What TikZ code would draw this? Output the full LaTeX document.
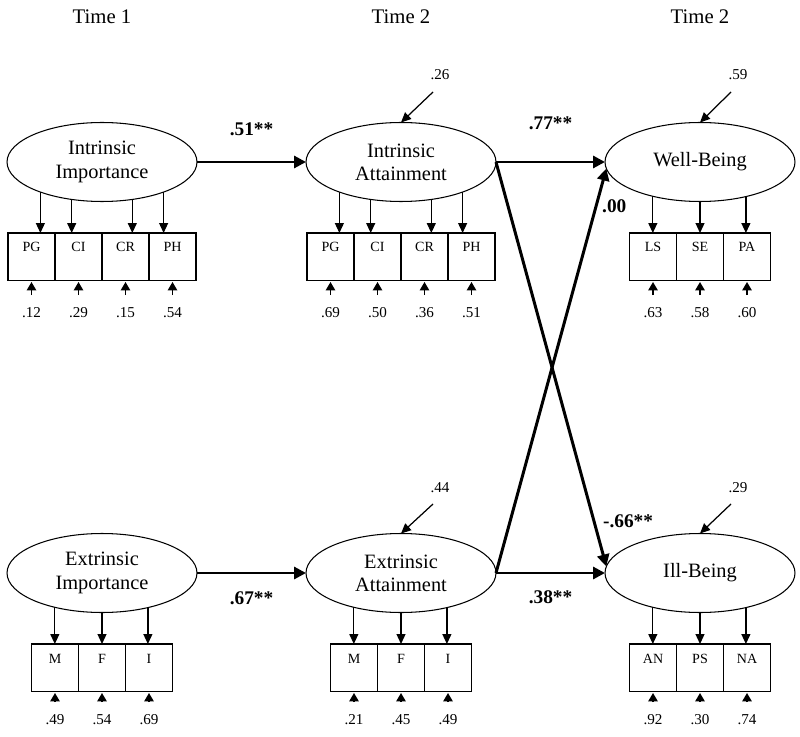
\documentclass[tikz,border=0pt]{standalone}
\usepackage{fontspec}
\setmainfont{Liberation Serif}
\usetikzlibrary{shapes, arrows.meta}

\tikzset{
	latent/.style={ellipse, draw, line width=0.6pt, minimum width=3.8cm, minimum height=1.58cm, inner sep=0pt, outer sep=0pt, align=center, font=\fontsize{11.6}{13.2}\selectfont},
	ind/.style={rectangle, draw, line width=0.6pt, minimum width=0.94cm, inner sep=0pt, outer sep=0pt, text height=0.38cm, text depth=0.57cm, anchor=north, font=\fontsize{8}{9}\selectfont},
	val/.style={inner sep=0pt, font=\fontsize{8.6}{10}\selectfont},
	timelbl/.style={font=\fontsize{11.8}{13}\selectfont},
	coef/.style={font=\bfseries\fontsize{11}{13}\selectfont},
	load/.style={line width=0.7pt, -{Triangle[length=0.2cm, width=0.18cm]}},
	erra/.style={line width=0.9pt, -{Triangle[length=0.17cm, width=0.19cm]}, shorten <=0.25cm, shorten >=0.03cm},
	resa/.style={line width=0.7pt, -{Triangle[length=0.2cm, width=0.18cm]}},
	struct/.style={line width=1.7pt, -{Triangle[length=0.24cm, width=0.24cm]}}
}

\begin{document}
\begin{tikzpicture}[x=0.02cm, y=-0.02cm]
	\useasboundingbox (0,0) rectangle (800,736);
	% time labels
	\node[timelbl] (t1) at (102,17) {Time 1};
	\node[timelbl] (t2) at (401,17) {Time 2};
	\node[timelbl] (t3) at (700,17) {Time 2};

	% latent variables
	\node[latent] (ii) at (102,162) {Intrinsic\\Importance};
	\node[latent] (ia) at (401,162) {Intrinsic\\Attainment};
	\node[latent] (wb) at (700,162) {Well-Being};
	\node[latent] (ei) at (102,573) {Extrinsic\\Importance};
	\node[latent] (ea) at (401,573) {Extrinsic\\Attainment};
	\node[latent] (ib) at (700,573) {Ill-Being};

	% indicators with error terms
	\foreach \lab/\val [count=\i] in {PG/.12, CI/.29, CR/.15, PH/.54} {
		\node[ind] (ii\i) at ({102+47*(\i-2.5)},233) {\lab};
		\node[val] (vii\i) at ({102+47*(\i-2.5)},313) {\val};
		\draw[erra] (vii\i) -- (ii\i);
	}
	\foreach \lab/\val [count=\i] in {PG/.69, CI/.50, CR/.36, PH/.51} {
		\node[ind] (ia\i) at ({401+47*(\i-2.5)},233) {\lab};
		\node[val] (via\i) at ({401+47*(\i-2.5)},313) {\val};
		\draw[erra] (via\i) -- (ia\i);
	}
	\foreach \lab/\val [count=\i] in {LS/.63, SE/.58, PA/.60} {
		\node[ind] (wb\i) at ({700+47*(\i-2)},233) {\lab};
		\node[val] (vwb\i) at ({700+47*(\i-2)},313) {\val};
		\draw[erra] (vwb\i) -- (wb\i);
	}
	\foreach \lab/\val [count=\i] in {M/.49, F/.54, I/.69} {
		\node[ind] (ei\i) at ({102+47*(\i-2)},644) {\lab};
		\node[val] (vei\i) at ({102+47*(\i-2)},720) {\val};
		\draw[erra] (vei\i) -- (ei\i);
	}
	\foreach \lab/\val [count=\i] in {M/.21, F/.45, I/.49} {
		\node[ind] (ea\i) at ({401+47*(\i-2)},644) {\lab};
		\node[val] (vea\i) at ({401+47*(\i-2)},720) {\val};
		\draw[erra] (vea\i) -- (ea\i);
	}
	\foreach \lab/\val [count=\i] in {AN/.92, PS/.30, NA/.74} {
		\node[ind] (ib\i) at ({700+47*(\i-2)},644) {\lab};
		\node[val] (vib\i) at ({700+47*(\i-2)},720) {\val};
		\draw[erra] (vib\i) -- (ib\i);
	}

	% loadings
	\foreach \a in {206,231,309,334} {
		\draw[load] (ii.\a) -- (ii.\a |- ii1.north);
		\draw[load] (ia.\a) -- (ia.\a |- ia1.north);
	}
	\foreach \n in {wb,ei,ea,ib} {
		\draw[load] (\n.216.5) -- (\n.216.5 |- \n1.north);
		\draw[load] (\n.south) -- (\n.south |- \n1.north);
		\draw[load] (\n.323.5) -- (\n.323.5 |- \n1.north);
	}

	% residuals
	\node[val] (ria) at (440,75) {.26};
	\node[val] (rwb) at (738,75) {.59};
	\node[val] (rea) at (440,488) {.44};
	\node[val] (rib) at (738,488) {.29};
	\coordinate (tia) at (433,92);
	\coordinate (twb) at (731,92);
	\coordinate (tea) at (433,504);
	\coordinate (tib) at (731,504);
	\draw[resa] (tia) -- (ia.north);
	\draw[resa] (twb) -- (wb.north);
	\draw[resa] (tea) -- (ea.north);
	\draw[resa] (tib) -- (ib.north);

	% structural paths
	\draw[struct] (ii) -- node[coef, yshift=0.66cm] {.51**} (ia);
	\draw[struct] (ia) -- node[coef, yshift=0.77cm] {.77**} (wb);
	\draw[struct] (ei) -- node[coef, yshift=-0.5cm] {.67**} (ea);
	\draw[struct] (ea) -- node[coef, yshift=-0.48cm] {.38**} (ib);
	\draw[struct] (ia.east) -- node[coef, pos=0.889, xshift=0.68cm] {-.66**} (ib.176);
	\draw[struct] (ea.east) -- node[coef, pos=0.9, xshift=0.38cm, yshift=0.06cm] {.00} (wb.184);
\end{tikzpicture}
\end{document}
